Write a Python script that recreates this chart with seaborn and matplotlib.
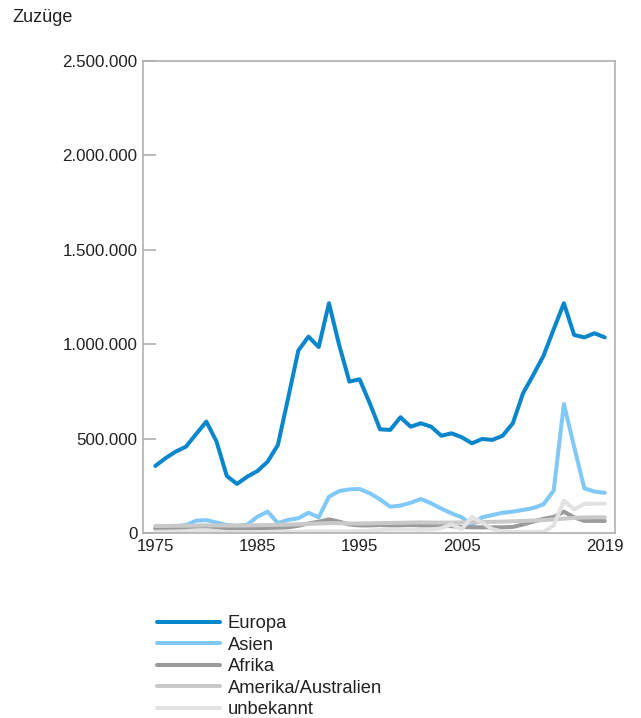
import matplotlib
matplotlib.use("Agg")
import matplotlib.pyplot as plt
import matplotlib.ticker as mticker
import pandas as pd
import seaborn as sns

years = list(range(1975, 2020))

europa = [355000, 396000, 431000, 457000, 524000, 590000, 484000, 302000, 260000, 298000,
          328000, 378000, 466000, 713000, 966000, 1040000, 985000, 1217000, 996000, 802000,
          814000, 687000, 549000, 546000, 613000, 563000, 581000, 563000, 515000, 528000,
          507000, 475000, 498000, 493000, 515000, 581000, 740000, 837000, 938000, 1079000,
          1217000, 1049000, 1036000, 1058000, 1036000]
asien = [25000, 28000, 35000, 42000, 65000, 68000, 55000, 42000, 38000, 44000,
         86000, 113000, 52000, 69000, 78000, 107000, 83000, 192000, 222000, 231000,
         233000, 210000, 178000, 139000, 145000, 160000, 180000, 157000, 129000, 104000,
         83000, 42000, 83000, 95000, 107000, 113000, 122000, 132000, 152000, 224000,
         683000, 457000, 237000, 219000, 213000]
afrika = [25000, 25000, 26000, 27000, 28000, 30000, 28000, 25000, 24000, 24000,
          25000, 27000, 28000, 30000, 38000, 50000, 60000, 72000, 60000, 45000,
          40000, 40000, 42000, 40000, 40000, 42000, 40000, 40000, 38000, 36000,
          32000, 30000, 30000, 30000, 30000, 32000, 45000, 60000, 75000, 85000,
          113000, 83000, 64000, 64000, 64000]
amerika = [37000, 37000, 38000, 38000, 39000, 40000, 40000, 39000, 39000, 40000,
           41000, 42000, 43000, 44000, 46000, 48000, 50000, 52000, 52000, 50000,
           50000, 51000, 52000, 53000, 54000, 55000, 56000, 55000, 55000, 55000,
           56000, 57000, 58000, 59000, 60000, 62000, 64000, 66000, 68000, 72000,
           76000, 80000, 82000, 83000, 83000]
unbekannt = [6000, 7000, 8000, 10000, 14000, 15000, 10000, 5000, 4000, 4000,
             4000, 5000, 5000, 5000, 6000, 8000, 8000, 8000, 7000, 8000,
             10000, 12000, 15000, 18000, 18000, 18000, 16000, 18000, 25000, 46000,
             20000, 85000, 55000, 20000, 8000, 5000, 5000, 5000, 5000, 40000,
             171000, 125000, 154000, 155000, 155000]

series = ["Europa", "Asien", "Afrika", "Amerika/Australien", "unbekannt"]
colors = ["#0a86cd", "#80c8f8", "#9a9a9a", "#c9c9c9", "#e2e2e2"]

df = pd.DataFrame({
    "Jahr": years * 5,
    "Zuzuege": europa + asien + afrika + amerika + unbekannt,
    "Region": [s for s in series for _ in years],
})

sns.set_style("white")
plt.rcParams["font.family"] = ["Liberation Sans", "DejaVu Sans"]
text_color = "#222222"

fig = plt.figure(figsize=(6.41, 7.18), dpi=100)
ax = fig.add_axes([0.2231, 0.2577, 0.7363, 0.6573])

sns.lineplot(data=df, x="Jahr", y="Zuzuege", hue="Region", hue_order=series,
             palette=colors, linewidth=2.9, ax=ax, legend=False)

ax.set_xlim(1973.8, 2020)
ax.set_ylim(0, 2500000)
ax.set_xticks([1975, 1985, 1995, 2005, 2019])
ax.set_yticks([0, 500000, 1000000, 1500000, 2000000, 2500000])
ax.yaxis.set_major_formatter(mticker.FuncFormatter(lambda v, p: f"{int(v):,}".replace(",", ".")))
ax.set_xlabel("")
ax.set_ylabel("")
ax.tick_params(axis="y", left=True, direction="in", length=9, width=1.2, color="#b0b0b0",
               labelsize=12.2, labelcolor=text_color, pad=4)
ax.tick_params(axis="x", bottom=False, length=0, labelsize=12.2, labelcolor=text_color, pad=4)
for sp in ax.spines.values():
    sp.set_color("#b0b0b0")
    sp.set_linewidth(1.2)

fig.text(12 / 641, 1 - 18 / 718, "Zuzüge", fontsize=13, color=text_color, va="center", ha="left")

handles = [plt.Line2D([], [], color=c, linewidth=2.9) for c in colors]
fig.legend(handles, series, loc="upper left", bbox_to_anchor=(150 / 641, 1 - 608 / 718),
           frameon=False, fontsize=13.2, handlelength=3.4, handletextpad=0.45,
           labelspacing=0.24, labelcolor=text_color, borderaxespad=0)

fig.savefig("out.png", dpi=100)
